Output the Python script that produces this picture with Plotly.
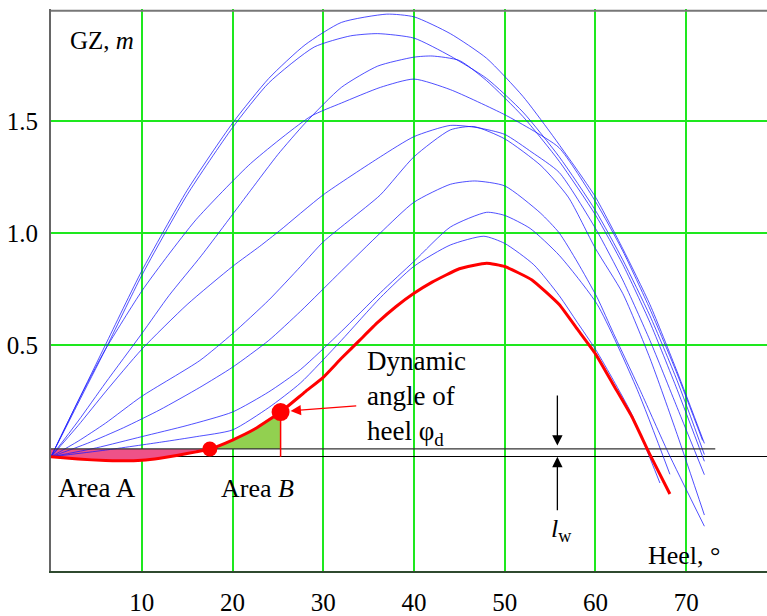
import numpy as np
import plotly.graph_objects as go

# Heel angles (deg) and righting-lever GZ (m) for the family of stability curves
heel_a = [0, 3, 6, 10, 15, 20, 24, 28, 32, 37, 40, 44, 48, 52, 55, 58, 60, 63, 66, 69, 72]
gz_a = [0, 0.25, 0.50, 0.83, 1.19, 1.49, 1.69, 1.84, 1.94, 1.977, 1.965, 1.89, 1.78, 1.61, 1.45, 1.28, 1.16, 0.93, 0.68, 0.38, 0.06]

heel_b = [0, 3, 6, 10, 15, 20, 24, 29, 33, 36, 40, 44, 48, 52, 56, 60, 63, 66, 69, 72]
gz_b = [0, 0.24, 0.48, 0.81, 1.17, 1.47, 1.67, 1.83, 1.88, 1.89, 1.87, 1.79, 1.69, 1.54, 1.34, 1.10, 0.88, 0.63, 0.34, 0.01]

heel_c = [0, 3, 6, 10, 13, 16.6, 22, 25, 28, 32, 36, 40, 42, 45, 48, 52, 56, 60, 63, 66, 69, 72]
gz_c = [0, 0.16, 0.33, 0.55, 0.72, 0.90, 1.19, 1.35, 1.49, 1.65, 1.745, 1.785, 1.79, 1.77, 1.68, 1.52, 1.32, 1.08, 0.86, 0.60, 0.30, -0.02]

heel_d = [0, 3, 6, 10, 12.9, 16, 22, 28.6, 32, 36.3, 40, 44, 49.9, 53, 56, 60, 63, 66, 69, 71.8]
gz_d = [0, 0.25, 0.48, 0.74, 0.90, 1.06, 1.31, 1.52, 1.58, 1.65, 1.687, 1.64, 1.53, 1.46, 1.38, 1.14, 0.92, 0.66, 0.37, 0.073]

heel_e = [0, 3, 6, 10, 15, 20, 23, 25.2, 30, 36.3, 40, 44, 47, 50, 53, 56, 60, 63, 66, 69, 72]
gz_e = [0, 0.14, 0.29, 0.48, 0.68, 0.85, 0.94, 1.01, 1.17, 1.34, 1.43, 1.48, 1.47, 1.44, 1.36, 1.27, 1.02, 0.79, 0.52, 0.22, -0.08]

heel_f = [0, 3, 6, 10, 16.4, 20, 24, 27.5, 30, 33, 36.3, 40, 44, 46.6, 50, 54, 57, 60, 63, 66, 69, 72]
gz_f = [0, 0.07, 0.15, 0.27, 0.43, 0.55, 0.70, 0.85, 0.96, 1.06, 1.17, 1.34, 1.46, 1.475, 1.42, 1.30, 1.16, 0.93, 0.73, 0.44, 0.10, -0.26]

heel_g = [0, 4, 8, 12, 16.4, 20, 24, 27.5, 32, 36.3, 40, 44, 46.7, 50, 53.9, 56, 58, 60.2, 62, 65, 68, 72]
gz_g = [0, 0.06, 0.13, 0.21, 0.31, 0.40, 0.52, 0.65, 0.83, 1.00, 1.137, 1.217, 1.232, 1.21, 1.09, 1.00, 0.87, 0.71, 0.55, 0.29, 0.02, -0.31]

heel_h = [0, 5, 10, 15, 20, 24, 27.5, 32, 36.3, 40, 44, 48, 50, 52.8, 56, 60.2, 64.6, 68.2]
gz_h = [0, 0.04, 0.09, 0.14, 0.20, 0.29, 0.39, 0.56, 0.733, 0.873, 1.026, 1.092, 1.078, 1.02, 0.90, 0.68, 0.30, -0.078]

heel_i = [0, 6, 12.2, 16, 20, 24, 27.5, 32, 36.3, 40, 44, 47.7, 50, 53.2, 56, 58, 60, 62, 64, 67.1]
gz_i = [0, 0.03, 0.066, 0.09, 0.12, 0.22, 0.33, 0.52, 0.711, 0.851, 0.946, 0.985, 0.953, 0.858, 0.72, 0.60, 0.48, 0.34, 0.19, -0.117]

# Critical loading condition (red curve)
heel_red = [0, 3, 6, 8, 10, 12, 14, 16, 17.5, 20, 22.5, 25.3, 28, 30, 32, 34, 36, 38, 40, 42, 45, 48, 50, 53, 56, 58, 60, 62, 64, 66, 68.2]
gz_red = [0, -0.01, -0.017, -0.018, -0.015, -0.006, 0.007, 0.022, 0.035, 0.075, 0.125, 0.20, 0.29, 0.355, 0.44, 0.52, 0.60, 0.67, 0.73, 0.78, 0.84, 0.865, 0.85, 0.79, 0.68, 0.57, 0.46, 0.32, 0.18, 0.01, -0.166]

# Wind heeling lever and characteristic angles
lw = 0.035
phi_start = 17.5   # GZ crosses lw
phi_dyn = 25.3     # dynamic angle of heel
lw_line_end = 73.2

# Axis ticks
x_ticks = [10, 20, 30, 40, 50, 60, 70]
y_ticks = [0.5, 1.0, 1.5, 2.0]
y_ticklabels = ["0.5", "1.0", "1.5", ""]

SERIF = "Times New Roman, Liberation Serif, Times, serif"
GRID = "#1EE81E"

fig = go.Figure()

# Area A: between lw line and GZ up to the first crossing
xa = np.linspace(0, phi_start, 80)
ya = np.interp(xa, heel_red, gz_red)
fig.add_trace(go.Scatter(
    x=np.concatenate([xa, xa[::-1]]),
    y=np.concatenate([ya, np.full_like(xa, lw)]),
    fill="toself", fillcolor="rgb(238,82,136)", mode="lines",
    line=dict(width=0), hoverinfo="skip", showlegend=False))

# Area B: between GZ and lw line up to the dynamic angle
xb = np.linspace(phi_start, phi_dyn, 60)
yb = np.interp(xb, heel_red, gz_red)
fig.add_trace(go.Scatter(
    x=np.concatenate([xb, xb[::-1]]),
    y=np.concatenate([yb, np.full_like(xb, lw)]),
    fill="toself", fillcolor="rgb(146,208,80)", mode="lines",
    line=dict(width=0), hoverinfo="skip", showlegend=False))

# Family of GZ curves
for hx, gy in [(heel_a, gz_a), (heel_b, gz_b), (heel_c, gz_c), (heel_d, gz_d),
               (heel_e, gz_e), (heel_f, gz_f), (heel_g, gz_g), (heel_h, gz_h),
               (heel_i, gz_i)]:
    fig.add_trace(go.Scatter(
        x=hx, y=gy, mode="lines",
        line=dict(color="rgba(25,25,255,0.85)", width=0.9,
                  shape="spline", smoothing=0.6),
        hoverinfo="skip", showlegend=False))

# Wind heeling lever line
fig.add_trace(go.Scatter(
    x=[0, lw_line_end], y=[lw, lw], mode="lines",
    line=dict(color="#333333", width=1.2), hoverinfo="skip", showlegend=False))

# Vertical at the dynamic angle
gz_dyn = float(np.interp(phi_dyn, heel_red, gz_red))
fig.add_trace(go.Scatter(
    x=[phi_dyn, phi_dyn], y=[0, gz_dyn], mode="lines",
    line=dict(color="red", width=1.5), hoverinfo="skip", showlegend=False))

# Critical GZ curve
fig.add_trace(go.Scatter(
    x=heel_red, y=gz_red, mode="lines",
    line=dict(color="red", width=3, shape="spline", smoothing=0.4),
    hoverinfo="skip", showlegend=False))

# Characteristic points
fig.add_trace(go.Scatter(
    x=[phi_start, phi_dyn],
    y=[float(np.interp(phi_start, heel_red, gz_red)), gz_dyn],
    mode="markers",
    marker=dict(color="red", size=[15, 18], opacity=1, line=dict(width=0)),
    hoverinfo="skip", showlegend=False))

annotations = [
    dict(x=5.6, y=1.86, text="GZ, <i>m</i>", font=dict(size=25)),
    dict(x=5.1, y=-0.14, text="Area A", font=dict(size=27)),
    dict(x=22.7, y=-0.14, text="Area <i>B</i>", font=dict(size=26)),
    dict(x=69.7, y=-0.44, text="Heel, °", font=dict(size=26)),
    dict(x=56.3, y=-0.325, text="<i>l</i><sub>w</sub>", font=dict(size=26)),
    dict(x=34.6, y=0.262, text="Dynamic<br>angle of<br>heel φ<sub>d</sub>",
         xanchor="left", align="left", font=dict(size=27)),
]
for a in annotations:
    a.update(xref="x", yref="y", showarrow=False)
    a["font"].update(family=SERIF, color="black")

# Arrow to the dynamic angle point
annotations.append(dict(
    x=26.4, y=0.205, ax=33.8, ay=0.228, xref="x", yref="y", axref="x", ayref="y",
    text="", showarrow=True, arrowhead=2, arrowsize=1.6, arrowwidth=1.3,
    arrowcolor="red"))
# lw dimension arrows
annotations.append(dict(
    x=55.8, y=lw + 0.015, ax=55.8, ay=0.28, xref="x", yref="y", axref="x", ayref="y",
    text="", showarrow=True, arrowhead=2, arrowsize=1.6, arrowwidth=1.3,
    arrowcolor="black"))
annotations.append(dict(
    x=55.8, y=0.0, ax=55.8, ay=-0.245, xref="x", yref="y", axref="x", ayref="y",
    text="", showarrow=True, arrowhead=2, arrowsize=1.6, arrowwidth=1.3,
    arrowcolor="black"))

fig.update_layout(
    width=767, height=616,
    margin=dict(l=51, r=0, t=9, b=35),
    paper_bgcolor="white", plot_bgcolor="white",
    font=dict(family=SERIF, color="black"),
    annotations=annotations,
    shapes=[
        dict(type="line", xref="paper", yref="paper", x0=0, x1=1, y0=0.997, y1=0.997,
             line=dict(color="#777777", width=2)),
    ],
)
fig.update_xaxes(
    range=[0, 78.9], tickvals=x_ticks, showgrid=True, gridcolor=GRID, gridwidth=1.5,
    zeroline=False, showline=True, linecolor="#2f4a2f", linewidth=2,
    ticks="outside", ticklen=8, tickcolor="rgba(0,0,0,0)",
    tickfont=dict(family=SERIF, size=25, color="black"))
fig.update_yaxes(
    range=[-0.51, 2.0], tickvals=y_ticks, ticktext=y_ticklabels,
    showgrid=True, gridcolor=GRID, gridwidth=1.5,
    zeroline=True, zerolinecolor="black", zerolinewidth=1.2,
    showline=True, linecolor="#666666", linewidth=2,
    ticks="outside", ticklen=6, tickcolor="rgba(0,0,0,0)",
    tickfont=dict(family=SERIF, size=25, color="black"))

fig.write_html("out.html")
